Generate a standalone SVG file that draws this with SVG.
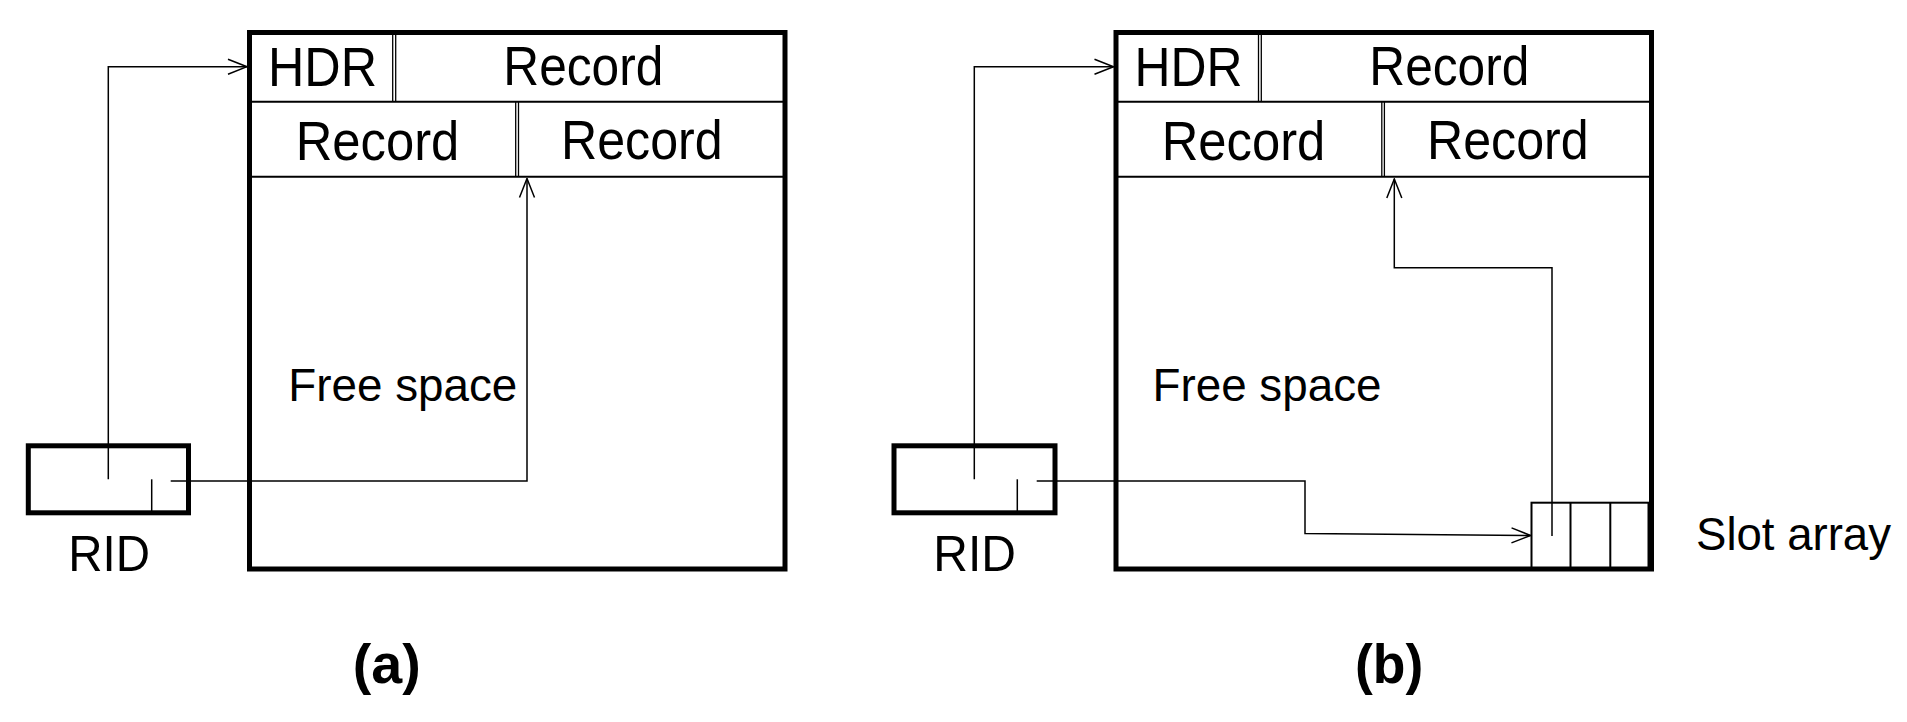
<svg xmlns="http://www.w3.org/2000/svg" width="1907" height="722" viewBox="0 0 1907 722">
<style>
  .bg{fill:#ffffff}
  .thick{fill:none;stroke:#000;stroke-width:5}
  .row{fill:none;stroke:#000;stroke-width:2}
  .dbl{fill:none;stroke:#000;stroke-width:1.3}
  .slot{fill:none;stroke:#000;stroke-width:2}
  .conn{fill:none;stroke:#000;stroke-width:1.5}
  .t{font-family:"Liberation Sans",Arial,Helvetica,sans-serif;fill:#000}
  .b{font-family:"Liberation Sans",Arial,Helvetica,sans-serif;font-weight:bold;fill:#000}
</style>
<defs>
  <marker id="arr" viewBox="-21 -9 22 18" refX="0" refY="0" markerWidth="22" markerHeight="18" markerUnits="userSpaceOnUse" orient="auto">
    <path d="M-19,-7.5 L0,0 L-19,7.5" fill="none" stroke="#000" stroke-width="1.5"/>
  </marker>
</defs>
<rect class="bg" x="0" y="0" width="1907" height="722"/>

<!-- Panel (a) -->
<g id="page-a">
  <rect class="thick" x="249.5" y="32.5" width="535.5" height="536.5"/>
  <line class="row" x1="249.5" y1="101.7" x2="785" y2="101.7"/>
  <line class="row" x1="249.5" y1="176.7" x2="785" y2="176.7"/>
  <line class="dbl" x1="392.7" y1="32.5" x2="392.7" y2="101.7"/>
  <line class="dbl" x1="395.7" y1="32.5" x2="395.7" y2="101.7"/>
  <line class="dbl" x1="515.7" y1="101.7" x2="515.7" y2="176.7"/>
  <line class="dbl" x1="518.5" y1="101.7" x2="518.5" y2="176.7"/>
  <text class="t" x="268" y="86" font-size="55" textLength="109" lengthAdjust="spacingAndGlyphs">HDR</text>
  <text class="t" x="503.3" y="85" font-size="55" textLength="160" lengthAdjust="spacingAndGlyphs">Record</text>
  <text class="t" x="295.7" y="160" font-size="55" textLength="163.6" lengthAdjust="spacingAndGlyphs">Record</text>
  <text class="t" x="561" y="159" font-size="55" textLength="161.7" lengthAdjust="spacingAndGlyphs">Record</text>
  <text class="t" x="288.3" y="401" font-size="47" textLength="229" lengthAdjust="spacingAndGlyphs">Free space</text>
</g>
<g id="rid-a">
  <rect class="thick" x="28.3" y="445.8" width="160.2" height="67"/>
  <line class="conn" x1="151.7" y1="479.3" x2="151.7" y2="512"/>
  <text class="t" x="68.3" y="571" font-size="50" textLength="81.7" lengthAdjust="spacingAndGlyphs">RID</text>
</g>
<g id="label-a">
  <text class="b" x="352.7" y="683" font-size="56" textLength="68" lengthAdjust="spacingAndGlyphs">(a)</text>
</g>

<!-- Panel (b) -->
<g id="page-b">
  <rect class="thick" x="1116" y="32.5" width="535.5" height="536.5"/>
  <line class="row" x1="1116" y1="101.7" x2="1651.5" y2="101.7"/>
  <line class="row" x1="1116" y1="176.7" x2="1651.5" y2="176.7"/>
  <line class="dbl" x1="1258.5" y1="32.5" x2="1258.5" y2="101.7"/>
  <line class="dbl" x1="1261.3" y1="32.5" x2="1261.3" y2="101.7"/>
  <line class="dbl" x1="1381.8" y1="101.7" x2="1381.8" y2="176.7"/>
  <line class="dbl" x1="1384.4" y1="101.7" x2="1384.4" y2="176.7"/>
  <text class="t" x="1134.5" y="86" font-size="55" textLength="108" lengthAdjust="spacingAndGlyphs">HDR</text>
  <text class="t" x="1369.3" y="85" font-size="55" textLength="160" lengthAdjust="spacingAndGlyphs">Record</text>
  <text class="t" x="1161.7" y="160" font-size="55" textLength="163.6" lengthAdjust="spacingAndGlyphs">Record</text>
  <text class="t" x="1427" y="159" font-size="55" textLength="161.7" lengthAdjust="spacingAndGlyphs">Record</text>
  <text class="t" x="1152.5" y="401" font-size="47" textLength="229" lengthAdjust="spacingAndGlyphs">Free space</text>
</g>
<g id="slot-array">
  <rect class="slot" x="1531.5" y="502.7" width="117" height="66.3"/>
  <line class="slot" x1="1570.5" y1="502.7" x2="1570.5" y2="569"/>
  <line class="slot" x1="1610.3" y1="502.7" x2="1610.3" y2="569"/>
  <text class="t" x="1696" y="550" font-size="46" textLength="195" lengthAdjust="spacingAndGlyphs">Slot array</text>
</g>
<g id="rid-b">
  <rect class="thick" x="894" y="445.8" width="161" height="67"/>
  <line class="conn" x1="1017.3" y1="479.3" x2="1017.3" y2="512"/>
  <text class="t" x="933.3" y="571" font-size="50" textLength="82.7" lengthAdjust="spacingAndGlyphs">RID</text>
</g>
<g id="label-b">
  <text class="b" x="1355" y="683" font-size="56" textLength="68.3" lengthAdjust="spacingAndGlyphs">(b)</text>
</g>

<!-- Connectors -->
<g id="connectors">
  <polyline class="conn" points="108.3,479.3 108.3,66.7 247,66.7" marker-end="url(#arr)"/>
  <polyline class="conn" points="170.7,481 527,481 527,178.5" marker-end="url(#arr)"/>
  <polyline class="conn" points="974.3,479.3 974.3,66.7 1113.5,66.7" marker-end="url(#arr)"/>
  <polyline class="conn" points="1036.7,481 1305,481 1305,533.5 1530.5,535.5" marker-end="url(#arr)"/>
  <polyline class="conn" points="1552,536 1552,267.7 1394.3,267.7 1394.3,179" marker-end="url(#arr)"/>
</g>
</svg>
